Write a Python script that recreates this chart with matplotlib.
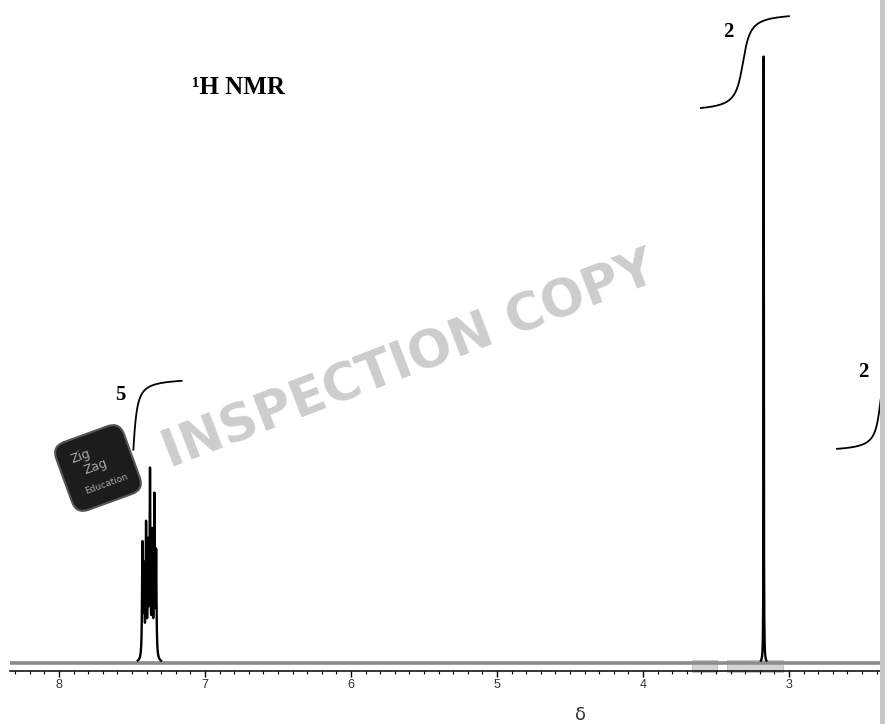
import numpy as np
import matplotlib
matplotlib.use('Agg')
import matplotlib.pyplot as plt
from matplotlib.patches import FancyBboxPatch, Rectangle
from matplotlib.transforms import Affine2D
from matplotlib.ticker import MultipleLocator

# peak list (shift in ppm, height relative to the CH2 singlet)
arom_shift = [7.429, 7.418, 7.404, 7.390, 7.377, 7.362, 7.347, 7.335]
arom_height = [0.185, 0.140, 0.212, 0.175, 0.298, 0.195, 0.258, 0.168]
ch2_shift = [3.173]
ch2_height = [1.0]

# integral traces: label, step centre, step width, lower level, rise, drawn range
int_label = ['5', '2', '2']
int_center = [7.493, 3.315, 2.370]
int_width = [0.0205, 0.0377, 0.0274]
int_low = [0.217, 0.906, 0.347]
int_rise = [0.252, 0.164, 0.181]
int_from = [7.491, 3.603, 2.671]
int_to = [7.160, 3.000, 2.342]
label_x = [7.582, 3.418, 2.493]
label_y = [0.441, 1.038, 0.479]

xmax, xmin = 8.336, 2.342

W, H = 885, 724
fig = plt.figure(figsize=(W / 100, H / 100), dpi=100)
ax = fig.add_axes([10 / W, 53 / H, 875 / W, 671 / H])
ax.set_xlim(xmax, xmin)
ax.set_ylim(-8 / 608, 663 / 608)

ppm = np.linspace(xmax, xmin, 40000)


def lorentz(x, pos, hts, g):
    y = np.zeros_like(x)
    for p, h in zip(pos, hts):
        y += h * g ** 2 / ((x - p) ** 2 + g ** 2)
    return y


spec = lorentz(ppm, arom_shift, arom_height, 0.003) + lorentz(ppm, ch2_shift, ch2_height, 0.0012)

ax.axhline(0, color='#8c8c8c', lw=2.6, zorder=2)
ax.plot(ppm, np.ma.masked_less(spec, 0.004), color='black', lw=1.7, zorder=3)

# integral curves
for lab, c, w, lo, r, a, b, lx, ly in zip(int_label, int_center, int_width, int_low,
                                          int_rise, int_from, int_to, label_x, label_y):
    xs = np.linspace(a, b, 400)
    f = 0.5 + np.arctan((c - xs) / w) / np.pi
    ax.plot(xs, lo + r * f, color='black', lw=1.3, zorder=4)
    ax.text(lx, ly, lab, fontsize=15, fontweight='bold', family='Liberation Serif',
            ha='center', va='center')

# grey selection boxes on the baseline
for a, b in [(3.664, 3.493), (3.425, 3.041)]:
    ax.add_patch(Rectangle((b, -0.0148), a - b, 0.0197, facecolor='#d4d4d4',
                           edgecolor='#bdbdbd', lw=0.6, clip_on=False, zorder=1))

for s in ['left', 'right', 'top']:
    ax.spines[s].set_visible(False)
ax.spines['bottom'].set_linewidth(1.1)
ax.set_yticks([])
ax.xaxis.set_major_locator(MultipleLocator(1))
ax.xaxis.set_minor_locator(MultipleLocator(0.1))
ax.tick_params(axis='x', which='major', length=4, width=1, pad=1.5,
               labelsize=9, labelcolor='#333333')
ax.tick_params(axis='x', which='minor', length=2, width=0.8)
for t in ax.get_xticklabels():
    t.set_family('Liberation Sans')

fig.text(580 / W, 1 - 715 / H, 'δ', fontsize=13, ha='center', va='center', color='#333333')
fig.text(238 / W, 1 - 87 / H, '¹H NMR', fontsize=18, fontweight='bold',
         family='Liberation Serif', ha='center', va='center')

# watermark
fig.text(410 / W, 1 - 362 / H, 'INSPECTION COPY', rotation=21, fontsize=37,
         fontweight='bold', color='#cdcdcd', ha='center', va='center',
         rotation_mode='anchor', zorder=0)

# logo block
cx, cy, side, rot = 98, H - 468, 72, 20
px = Affine2D().scale(1 / 100) + fig.dpi_scale_trans
logo = FancyBboxPatch((cx - side / 2, cy - side / 2), side, side,
                      boxstyle='round,pad=0,rounding_size=13', facecolor='#1c1c1c',
                      edgecolor='#555555', lw=1.5,
                      transform=Affine2D().rotate_deg_around(cx, cy, rot) + px, zorder=5)
fig.add_artist(logo)
th = np.radians(rot)
for txt, dx, dy, fs in [('Zig', -12, 17, 9), ('Zag', -2, 2, 9), ('Education', 2, -18, 6.5)]:
    rx = cx + dx * np.cos(th) - dy * np.sin(th)
    ry = cy + dx * np.sin(th) + dy * np.cos(th)
    fig.text(rx / W, ry / H, txt, rotation=rot, fontsize=fs, color='#a8a8a8',
             ha='center', va='center', rotation_mode='anchor', zorder=6)

# scroll bar strip on the right edge
fig.add_artist(Rectangle((880 / W, 0), 5 / W, 1, transform=fig.transFigure,
                         facecolor='#c6c6c6', edgecolor='none', zorder=10))

fig.savefig('out.png', dpi=100)
